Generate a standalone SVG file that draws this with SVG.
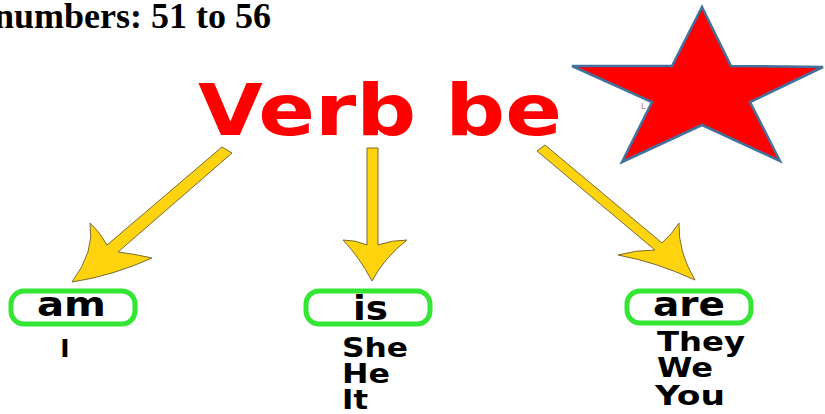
<svg xmlns="http://www.w3.org/2000/svg" width="825" height="414" viewBox="0 0 825 414">
<style>
.lbl{font-family:"DejaVu Sans","Verdana",sans-serif;font-weight:bold;fill:#000}
.box{fill:#fff;stroke:#33E633;stroke-width:5}
.arr{fill:#FFD40F;stroke:#7A6A30;stroke-width:1}
</style>
<rect width="825" height="414" fill="#fff"/>
<g id="title">
<text x="-6" y="28" font-family="'Liberation Serif','Times New Roman',serif" font-weight="bold" font-size="36" fill="#000">numbers: 51 to 56</text>
</g>
<g id="star">
<text x="641" y="109" font-family="'Liberation Sans',sans-serif" font-size="9" fill="#D08060">L</text>
<polygon points="702,7 731,66 823,67 750,102 780,161 702,125 622,162 652,102 572,66 672,66" fill="#FF0000" stroke="#41719C" stroke-width="2.5" stroke-linejoin="miter"/>
</g>
<g id="verb-be">
<text x="198" y="135" font-family="'DejaVu Sans',sans-serif" font-weight="bold" font-size="72" fill="#FF0000" textLength="364" lengthAdjust="spacingAndGlyphs">Verb be</text>
</g>
<g id="connectors">
<path class="arr" d="M222,147 L232,153 L118,252 Q135,254 152,258 Q112,276 72,282 Q95,251 90,223 Q100,232 107,245 Z"/>
<path class="arr" d="M367,148 L378,148 L378,245 Q392,240 407,240 Q384,258 372,281 Q360,258 343,240 Q356,240 367,245 Z"/>
<path class="arr" d="M537,151 L545,145 L662,243 Q673,233 679,223 Q678,252 695,280 Q656,262 618,255 Q636,250 655,250 Z"/>
</g>
<g id="am">
<rect class="box" x="11" y="291" width="124" height="33" rx="13"/>
<text class="lbl" x="37" y="316" font-size="33" textLength="69" lengthAdjust="spacingAndGlyphs">am</text>
<text class="lbl" x="65" y="357" font-size="25" text-anchor="middle">I</text>
</g>
<g id="is">
<rect class="box" x="306" y="291" width="124" height="33" rx="13"/>
<text class="lbl" x="353" y="320" font-size="33" textLength="35" lengthAdjust="spacingAndGlyphs">is</text>
<text class="lbl" x="342" y="357" font-size="26" textLength="66" lengthAdjust="spacingAndGlyphs">She</text>
<text class="lbl" x="342" y="383" font-size="26" textLength="48" lengthAdjust="spacingAndGlyphs">He</text>
<text class="lbl" x="342" y="409" font-size="26" textLength="26" lengthAdjust="spacingAndGlyphs">It</text>
</g>
<g id="are">
<rect class="box" x="627" y="291" width="124" height="32" rx="13"/>
<text class="lbl" x="653" y="316" font-size="33" textLength="72" lengthAdjust="spacingAndGlyphs">are</text>
<text class="lbl" x="657" y="351" font-size="26" textLength="88" lengthAdjust="spacingAndGlyphs">They</text>
<text class="lbl" x="657" y="377" font-size="26" textLength="56" lengthAdjust="spacingAndGlyphs">We</text>
<text class="lbl" x="655" y="405" font-size="26" textLength="70" lengthAdjust="spacingAndGlyphs">You</text>
</g>
</svg>
